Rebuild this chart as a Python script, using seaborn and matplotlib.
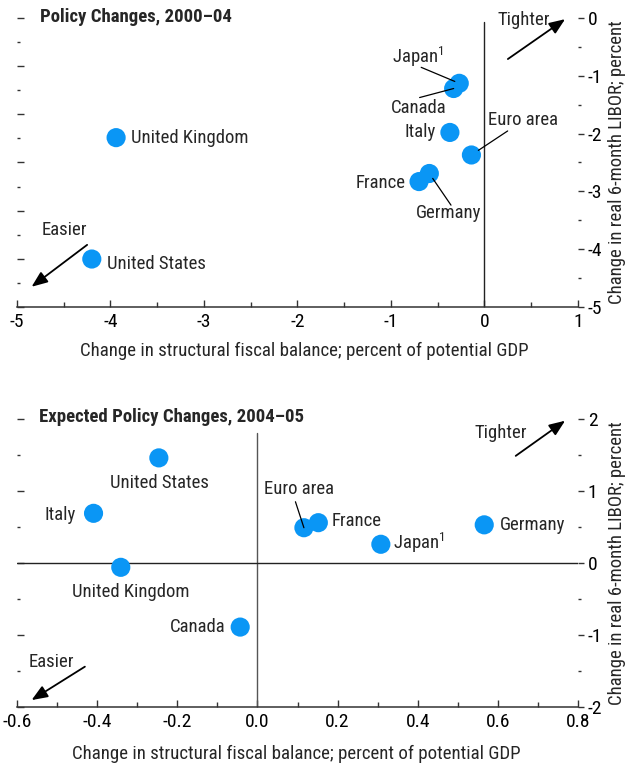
import matplotlib
matplotlib.use("Agg")
import matplotlib.pyplot as plt
import matplotlib.ticker as mticker
import seaborn as sns
import pandas as pd

# ---------------- data ----------------
countries_0004 = ["United States", "United Kingdom", "Japan", "Canada",
                  "Italy", "Euro area", "Germany", "France"]
fiscal_0004 = [-4.20, -3.94, -0.27, -0.33, -0.37, -0.14, -0.59, -0.70]
libor_0004 = [-4.17, -2.07, -1.13, -1.22, -1.98, -2.37, -2.69, -2.83]

countries_0405 = ["United States", "Italy", "United Kingdom", "Canada",
                  "Euro area", "France", "Japan", "Germany"]
fiscal_0405 = [-0.246, -0.409, -0.341, -0.043, 0.116, 0.152, 0.308, 0.566]
libor_0405 = [1.46, 0.69, -0.06, -0.89, 0.49, 0.56, 0.26, 0.53]

xticks_top = [-5, -4, -3, -2, -1, 0, 1]
yticks_top = [0, -1, -2, -3, -4, -5]
xticks_bot = [-0.6, -0.4, -0.2, 0.0, 0.2, 0.4, 0.6, 0.8]
yticks_bot = [2, 1, 0, -1, -2]

title_top = "Policy Changes, 2000\u201304"
title_bot = "Expected Policy Changes, 2004\u201305"
xlabel = "Change in structural fiscal balance; percent of potential GDP"
ylabel = "Change in real 6-month LIBOR; percent"

# ---------------- style ----------------
sns.set_style("white")
FONT = ["Roboto Condensed", "Archivo Narrow", "DejaVu Sans"]
plt.rcParams["font.family"] = FONT
plt.rcParams["mathtext.fontset"] = "custom"
plt.rcParams["mathtext.rm"] = "Roboto Condensed"
plt.rcParams["mathtext.it"] = "Roboto Condensed"
plt.rcParams["mathtext.bf"] = "Roboto Condensed:bold"
FS = 13.5        # point labels
FS_AX = 13.6     # x-axis label
FS_TICK = 14
FS_TITLE = 13.5
DOT = "#0a96f5"
AX_COLOR = "#333333"

fig = plt.figure(figsize=(6.32, 7.71), dpi=100)
ax1 = fig.add_axes([17 / 632, 1 - 307 / 771, 561 / 632, 289 / 771])
ax2 = fig.add_axes([17 / 632, 1 - 707 / 771, 561 / 632, 288 / 771])

df1 = pd.DataFrame({"country": countries_0004, "fiscal": fiscal_0004, "libor": libor_0004})
df2 = pd.DataFrame({"country": countries_0405, "fiscal": fiscal_0405, "libor": libor_0405})

for ax, df in [(ax1, df1), (ax2, df2)]:
    sns.scatterplot(data=df, x="fiscal", y="libor", ax=ax, s=190, color=DOT,
                    edgecolor="none", linewidth=0, zorder=3, legend=False)


def style_axes(ax, xlim, ylim, xt, yt, xminor, yminor, left_fn, left_major, left_minor,
               lpad, lx):
    ax.set_xlim(*xlim)
    ax.set_ylim(*ylim)
    for s in ["top", "left", "right"]:
        ax.spines[s].set_visible(False)
    ax.spines["bottom"].set_color(AX_COLOR)
    ax.spines["bottom"].set_linewidth(1.1)
    ax.set_xticks(xt)
    ax.xaxis.set_minor_locator(mticker.MultipleLocator(xminor))
    ax.tick_params(axis="x", which="both", direction="in", colors=AX_COLOR,
                   labelcolor="black", labelsize=FS_TICK, pad=4, top=False, bottom=True)
    ax.tick_params(axis="x", which="major", length=5, width=1)
    ax.tick_params(axis="x", which="minor", length=3.5, width=1)
    ax.set_yticks(yt)
    ax.yaxis.set_minor_locator(mticker.MultipleLocator(yminor))
    ax.yaxis.tick_right()
    ax.yaxis.set_label_position("right")
    ax.tick_params(axis="y", which="both", direction="out", colors=AX_COLOR,
                   labelcolor="black", labelsize=FS_TICK, pad=3, left=False, right=True)
    ax.tick_params(axis="y", which="major", length=4, width=1)
    ax.tick_params(axis="y", which="minor", length=2.5, width=1)
    ax.set_xlabel(xlabel, fontsize=FS_AX, labelpad=lpad)
    ax.xaxis.label.set_x(lx)
    ax.set_ylabel(ylabel, fontsize=FS, rotation=90)
    ax.yaxis.set_label_coords(1.053, 0.5)
    # left-hand tick marks (no labels)
    sec = ax.secondary_yaxis("left", functions=left_fn)
    sec.spines["left"].set_visible(False)
    sec.yaxis.set_major_locator(mticker.MultipleLocator(left_major))
    sec.yaxis.set_minor_locator(mticker.MultipleLocator(left_minor))
    sec.tick_params(axis="y", which="both", direction="in", colors=AX_COLOR,
                    labelleft=False, width=1)
    sec.tick_params(axis="y", which="major", length=5)
    sec.tick_params(axis="y", which="minor", length=2.5)


style_axes(ax1, (-5, 1), (-5, 0), xticks_top, yticks_top, 0.5, 0.5,
           (lambda y: (y + 5) * 2.4, lambda v: v / 2.4 - 5), 2, 1, 8, 0.513)
style_axes(ax2, (-0.6, 0.8), (-2, 2), xticks_bot, yticks_bot, 0.1, 0.5,
           (lambda y: y, lambda v: v), 1, 0.5, 10, 0.497)
ax1.set_xticklabels([str(v) for v in xticks_top])
ax1.set_yticklabels([str(v) for v in yticks_top])
ax2.set_xticklabels([f"{v:.1f}" for v in xticks_bot])
ax2.set_yticklabels([str(v) for v in yticks_bot])

# zero reference lines
ax1.axvline(0, ymin=0, ymax=0.987, color="#222222", lw=1.0, zorder=1)
ax2.axvline(0, ymin=0, ymax=0.951, color="#555555", lw=1.0, zorder=1)
ax2.axhline(0, color="#222222", lw=1.0, zorder=1)

# titles
ax1.text(0.041, 1.003, title_top, transform=ax1.transAxes, fontsize=FS_TITLE,
         fontweight="bold", ha="left", va="center")
ax2.text(0.039, 1.007, title_bot, transform=ax2.transAxes, fontsize=FS_TITLE,
         fontweight="bold", ha="left", va="center")

# Tighter / Easier arrows
def direction_arrows(ax, t_txt, t_tail, t_tip, e_txt, e_tail, e_tip):
    kw = dict(arrowstyle="-|>,head_length=0.8,head_width=0.32", color="black",
              lw=1.3, mutation_scale=12, shrinkA=0, shrinkB=0)
    ax.annotate("", xy=t_tip, xytext=t_tail, xycoords="axes fraction",
                textcoords="axes fraction", arrowprops=kw)
    ax.annotate("", xy=e_tip, xytext=e_tail, xycoords="axes fraction",
                textcoords="axes fraction", arrowprops=kw)
    ax.text(*t_txt, "Tighter", transform=ax.transAxes, fontsize=FS, ha="center", va="center")
    ax.text(*e_txt, "Easier", transform=ax.transAxes, fontsize=FS, ha="center", va="center")


direction_arrows(ax1, (0.904, 0.993), (0.875, 0.858), (0.977, 0.996),
                 (0.084, 0.266), (0.125, 0.215), (0.026, 0.070))
direction_arrows(ax2, (0.863, 0.953), (0.889, 0.872), (0.977, 0.994),
                 (0.062, 0.156), (0.121, 0.140), (0.026, 0.024))


def disp(name):
    return "Japan$^{1}$" if name == "Japan" else name


# label offsets in points: (dx, dy, ha, leader_start or None, shrinkB)
labels_top = {
    "United States": (11, -3.5, "left", None, 0),
    "United Kingdom": (11, 0, "left", None, 0),
    "Japan": (-30, 19, "center", (-27.4, 11.5), 3.5),
    "Canada": (-25, -13.7, "center", (-24.5, -6.5), 0),
    "Italy": (-10, 0, "right", None, 0),
    "Euro area": (37.4, 25.2, "center", (26.1, 17.3), 6),
    "Germany": (13.5, -28.6, "center", (15.6, -22.8), 4.3),
    "France": (-10, -1, "right", None, 0),
}
labels_bot = {
    "United States": (0.7, -18, "center", None, 0),
    "Italy": (-12.6, -1.4, "right", None, 0),
    "United Kingdom": (7.5, -18, "center", None, 0),
    "Canada": (-10.8, 0, "right", None, 0),
    "Euro area": (-3.6, 28, "center", (-6.1, 18.7), 0),
    "France": (9.6, 1.2, "left", None, 0),
    "Japan": (8.6, 0.8, "left", None, 0),
    "Germany": (11.5, 0, "left", None, 0),
}

for ax, df, labs in [(ax1, df1, labels_top), (ax2, df2, labels_bot)]:
    for _, r in df.iterrows():
        dx, dy, ha, lead, shr = labs[r["country"]]
        ax.annotate(disp(r["country"]), xy=(r["fiscal"], r["libor"]), xytext=(dx, dy),
                    textcoords="offset points", ha=ha, va="center", fontsize=FS, zorder=5)
        if lead is not None:
            ax.annotate("", xy=(r["fiscal"], r["libor"]), xytext=lead,
                        textcoords="offset points",
                        arrowprops=dict(arrowstyle="-", color="black", lw=0.9,
                                        shrinkA=0, shrinkB=shr),
                        zorder=6)

fig.savefig("out.png", dpi=100)
